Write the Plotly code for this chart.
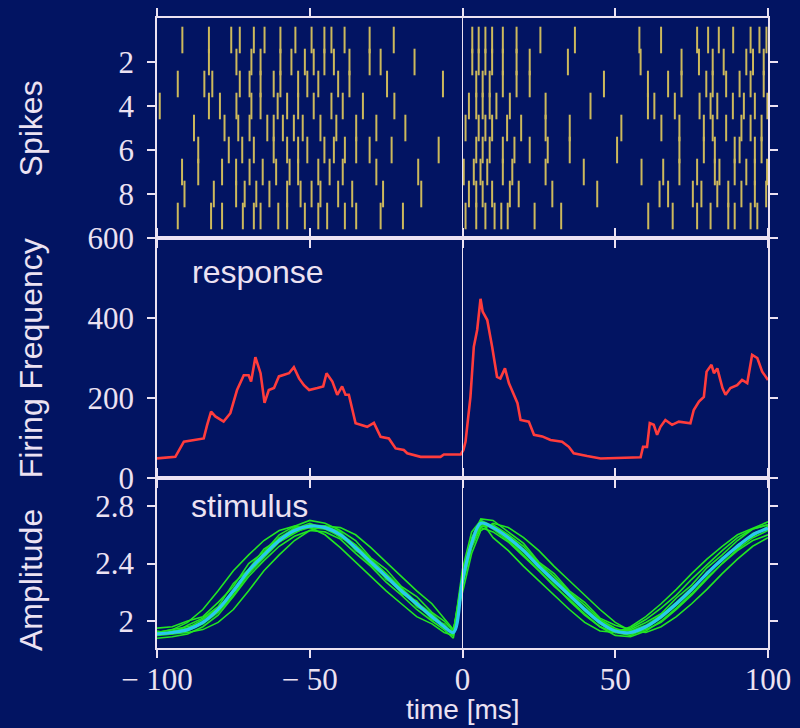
import plotly.graph_objects as go
from plotly.subplots import make_subplots

# ---------------- data ----------------
# spike times (ms) for each of the 9 trials, aligned to the stimulus event at 0 ms
spike_trials = [
    [-91.7, -83.0, -75.7, -72.9, -68.3, -64.8, -59.6, -54.7, -49.4, -45.2, -42.9, -38.6, -30.4, -22.5,
     3.2, 5.3, 7.5, 9.7, 13.2, 17.7, 25.5, 36.8, 57.9, 65.0, 76.8, 80.4, 83.9, 88.6, 94.3, 97.2, 99.5],
    [-83.0, -74.0, -69.1, -66.1, -59.6, -56.0, -51.6, -48.7, -45.2, -42.1, -37.0, -30.4, -26.8, -15.7,
     3.2, 5.3, 7.5, 9.7, 13.2, 17.7, 22.0, 34.5, 58.3, 71.7, 77.4, 81.9, 85.5, 92.9, 95.1, 98.6],
    [-93.2, -84.5, -81.9, -72.9, -69.7, -66.1, -61.8, -59.6, -53.8, -50.8, -47.2, -40.7, -37.0, -24.7, -6.4,
     4.5, 6.6, 8.9, 13.2, 17.7, 22.0, 46.3, 60.7, 67.3, 71.7, 79.8, 81.9, 86.3, 90.7, 94.3, 98.6],
    [-99.1, -83.0, -79.4, -74.0, -69.1, -66.1, -60.5, -57.4, -53.8, -48.7, -42.9, -39.2, -32.6, -22.3,
     2.1, 4.5, 6.6, 8.9, 11.1, 15.5, 27.2, 41.9, 60.7, 62.8, 69.5, 77.6, 81.2, 83.4, 88.5, 92.1, 95.7, 99.8],
    [-87.9, -77.9, -73.4, -69.7, -63.9, -61.8, -58.8, -55.2, -52.3, -46.5, -41.3, -34.8, -28.2, -18.7,
     1.0, 5.3, 7.5, 9.7, 14.6, 19.2, 27.2, 35.1, 52.0, 65.1, 71.0, 79.0, 81.9, 86.3, 91.3, 94.3, 97.9],
    [-86.5, -76.5, -72.1, -68.3, -61.8, -57.4, -53.8, -50.8, -45.2, -42.1, -38.5, -34.8, -30.4, -23.2, -7.8,
     4.5, 6.6, 8.9, 13.2, 17.0, 22.0, 27.9, 35.1, 50.6, 71.0, 79.0, 82.6, 89.1, 90.7, 95.7, 97.9],
    [-91.8, -86.5, -78.7, -74.1, -69.7, -65.4, -61.0, -56.6, -53.8, -47.2, -43.5, -39.2, -28.2, -14.5,
     0.4, 3.7, 5.9, 8.1, 13.2, 16.3, 27.2, 39.7, 58.6, 65.7, 71.0, 76.8, 82.6, 84.1, 89.1, 92.9, 95.7, 99.7],
    [-91.0, -81.4, -74.1, -71.3, -67.5, -63.2, -57.4, -53.0, -49.4, -46.5, -40.7, -36.1, -26.0, -13.5,
     2.1, 4.5, 6.6, 9.7, 15.5, 18.4, 29.4, 44.1, 64.5, 67.3, 75.4, 78.2, 83.4, 87.0, 91.3, 95.7, 99.4],
    [-93.2, -82.3, -78.7, -71.9, -68.3, -66.1, -60.3, -57.4, -51.6, -47.2, -44.3, -38.5, -34.8, -26.8, -19.5,
     1.0, 4.5, 7.5, 10.5, 12.7, 14.8, 23.6, 32.3, 60.8, 68.8, 76.8, 81.2, 87.0, 89.1, 94.3, 96.5],
]

# trial-averaged firing rate (Hz)
rate_t = [-100, -94, -91.2, -87.4, -84.7, -83.6, -82.3, -80.9, -78.2, -76, -73.8, -71.6, -70, -69.2,
          -67.8, -66.1, -64.8, -63.4, -61.7, -60.1, -58.5, -56.8, -55.2, -53.5, -51.9, -50.2, -47.5,
          -45.6, -44.5, -42.6, -41, -39.4, -38.3, -37.2, -35, -31.2, -29, -26.8, -24.1, -21.9, -19.2,
          -18.1, -13.7, -7.2, -6.1, -0.6, 0.3, 1.0, 2.6, 3.7, 4.8, 5.9, 6.6, 8.1, 9.7, 11.3, 12.4, 13.9,
          15.2, 18, 19, 21.7, 23.4, 26.1, 28.8, 32.6, 34.8, 36.4, 40.8, 45.2, 58.3, 59.1, 60.4, 61.3,
          62.6, 63.7, 64.8, 66.4, 68.6, 70.8, 74.6, 75.7, 77.4, 79, 79.9, 81.5, 82.3, 83.4, 85.1, 86.1,
          87.7, 89.9, 91.5, 93.2, 94.8, 96.5, 98.1, 100]
rate_hz = [49, 53, 91, 95, 99, 132, 166, 154, 141, 162, 220, 257, 257, 241,
           302, 262, 188, 220, 225, 254, 257, 262, 277, 249, 232, 220, 225,
           229, 262, 241, 208, 229, 208, 208, 137, 128, 138, 103, 99, 74, 70,
           62, 53, 53, 59, 59, 70, 91, 203, 328, 370, 448, 416, 395, 328, 253, 249, 274,
           237, 187, 145, 141, 108, 104, 95, 91, 78, 62, 55, 49, 52, 78, 78, 137,
           133, 108, 128, 145, 133, 141, 137, 170, 191, 203, 266, 283, 262, 274, 225, 208,
           225, 232, 245, 237, 308, 300, 266, 245]

# stimulus amplitude: individual trials and their mean
stim_t = [-100, -95, -90, -85, -80, -75, -70, -65, -60, -55, -50, -45, -40, -35, -30, -25, -20, -15, -10,
          -6, -3, 0, 3, 6, 10, 15, 20, 25, 30, 35, 40, 45, 50, 55, 60, 65, 70, 75, 80, 85, 90, 95, 100]
stim_trials = [
    [1.92, 1.94, 1.99, 2.08, 2.21, 2.35, 2.46, 2.56, 2.63, 2.66, 2.65, 2.60, 2.51, 2.41, 2.31, 2.21, 2.12, 2.03, 1.98,
     1.92, 1.90, 2.36, 2.62, 2.70, 2.58, 2.49, 2.38, 2.28, 2.18, 2.08, 1.99, 1.93, 1.92, 1.96, 2.03, 2.12, 2.22, 2.33, 2.43, 2.52, 2.60, 2.645, 2.69],
    [1.90, 1.91, 1.92, 1.94, 1.99, 2.08, 2.21, 2.35, 2.46, 2.56, 2.63, 2.66, 2.65, 2.60, 2.51, 2.41, 2.31, 2.21, 2.12,
     2.02, 1.94, 2.20, 2.47, 2.63, 2.68, 2.65, 2.58, 2.49, 2.38, 2.28, 2.18, 2.08, 1.99, 1.93, 1.92, 1.96, 2.03, 2.12, 2.22, 2.33, 2.43, 2.52, 2.58],
    [1.95, 1.96, 2.00, 2.03, 2.13, 2.24, 2.40, 2.48, 2.60, 2.66, 2.70, 2.68, 2.63, 2.56, 2.44, 2.36, 2.24, 2.17, 2.06,
     2.00, 1.93, 2.31, 2.58, 2.71, 2.70, 2.62, 2.54, 2.41, 2.33, 2.21, 2.13, 2.02, 1.97, 1.94, 1.99, 2.05, 2.16, 2.25, 2.37, 2.46, 2.56, 2.64, 2.67],
    [1.88, 1.89, 1.91, 1.96, 2.04, 2.17, 2.31, 2.42, 2.52, 2.59, 2.63, 2.62, 2.57, 2.47, 2.38, 2.27, 2.18, 2.08, 2.00,
     1.94, 1.88, 2.25, 2.51, 2.65, 2.62, 2.55, 2.45, 2.35, 2.24, 2.15, 2.05, 1.96, 1.90, 1.89, 1.93, 2.00, 2.09, 2.19, 2.30, 2.40, 2.49, 2.56, 2.60],
    [1.93, 1.91, 1.97, 2.02, 2.10, 2.26, 2.36, 2.50, 2.57, 2.65, 2.66, 2.66, 2.58, 2.53, 2.40, 2.33, 2.19, 2.14, 2.01,
     1.98, 1.91, 2.27, 2.55, 2.67, 2.67, 2.60, 2.52, 2.40, 2.31, 2.20, 2.11, 2.01, 1.95, 1.91, 1.94, 1.99, 2.08, 2.18, 2.29, 2.40, 2.50, 2.58, 2.63],
    [1.90, 1.93, 1.95, 2.01, 2.09, 2.20, 2.33, 2.45, 2.55, 2.62, 2.65, 2.64, 2.61, 2.53, 2.43, 2.33, 2.23, 2.13, 2.05,
     1.97, 1.90, 2.32, 2.56, 2.69, 2.64, 2.56, 2.46, 2.35, 2.25, 2.14, 2.04, 1.96, 1.92, 1.95, 2.01, 2.09, 2.18, 2.29, 2.39, 2.49, 2.58, 2.64, 2.67],
    [1.91, 1.92, 1.93, 1.98, 2.06, 2.18, 2.33, 2.44, 2.55, 2.61, 2.67, 2.66, 2.62, 2.49, 2.43, 2.29, 2.23, 2.10, 2.04,
     1.95, 1.93, 2.26, 2.52, 2.66, 2.66, 2.59, 2.50, 2.39, 2.29, 2.19, 2.09, 2.00, 1.94, 1.93, 1.97, 2.04, 2.13, 2.23, 2.32, 2.44, 2.51, 2.61, 2.64],
    [1.92, 1.94, 1.96, 1.98, 2.07, 2.20, 2.36, 2.47, 2.58, 2.64, 2.68, 2.64, 2.59, 2.50, 2.39, 2.30, 2.20, 2.11, 2.02,
     1.96, 1.92, 2.29, 2.55, 2.70, 2.66, 2.57, 2.48, 2.37, 2.27, 2.17, 2.07, 1.98, 1.92, 1.90, 1.95, 2.02, 2.11, 2.21, 2.34, 2.42, 2.53, 2.59, 2.66],
]
stim_mean = [1.91, 1.92, 1.94, 1.99, 2.08, 2.21, 2.35, 2.46, 2.56, 2.63, 2.66, 2.65, 2.60, 2.51, 2.41, 2.31, 2.21, 2.12, 2.03,
             1.96, 1.92, 2.28, 2.54, 2.68, 2.65, 2.58, 2.49, 2.38, 2.28, 2.18, 2.08, 1.99, 1.93, 1.92, 1.96, 2.03, 2.12, 2.22, 2.33, 2.43, 2.52, 2.60, 2.645]

x_ticks = [-100, -50, 0, 50, 100]
x_ticktext = ["\u2212 100", "\u2212 50", "0", "50", "100"]
spike_ticks = [2, 4, 6, 8]
rate_ticks = [0, 200, 400, 600]
amp_ticks = [2, 2.4, 2.8]

# ---------------- style ----------------
BG = "#021462"
FG = "#ece2f2"
SERIF = "Liberation Serif, Times New Roman, serif"
SANS = "Liberation Sans, Arial, sans-serif"

fig = make_subplots(rows=3, cols=1, shared_xaxes=True, vertical_spacing=0)

# spike raster: one short vertical tick per spike
for k, times in enumerate(spike_trials, start=1):
    fig.add_trace(go.Scatter(
        x=times, y=[k] * len(times), mode="markers",
        marker=dict(symbol="line-ns", size=19, line=dict(width=2, color="#cdb95c")),
        hoverinfo="x", showlegend=False), row=1, col=1)

# firing rate
fig.add_trace(go.Scatter(x=rate_t, y=rate_hz, mode="lines",
                         line=dict(color="#ff3c3c", width=2.6), showlegend=False), row=2, col=1)

# stimulus trials and mean
for tr in stim_trials:
    fig.add_trace(go.Scatter(x=stim_t, y=tr, mode="lines",
                             line=dict(color="#22e622", width=1.6), showlegend=False), row=3, col=1)
fig.add_trace(go.Scatter(x=stim_t, y=stim_mean, mode="lines", line_shape="spline",
                         line=dict(color="#2ac8ee", width=3.2), showlegend=False), row=3, col=1)

axis_common = dict(showline=True, linecolor=FG, linewidth=1.5, mirror="ticks",
                   ticks="outside", ticklen=8, tickwidth=2, tickcolor=FG,
                   showgrid=False, zeroline=False, automargin=False,
                   tickfont=dict(family=SERIF, size=31, color=FG))

for r in (1, 2, 3):
    fig.update_xaxes(axis_common, range=[-100, 100], tickvals=x_ticks, ticktext=x_ticktext,
                     ticklabelstandoff=-5, row=r, col=1)
fig.update_xaxes(showticklabels=True, row=3, col=1)

fig.update_yaxes(axis_common, range=[10, 0], tickvals=spike_ticks, ticklabelstandoff=7, row=1, col=1)
fig.update_yaxes(axis_common, range=[0, 600], tickvals=rate_ticks, ticklabelstandoff=7, row=2, col=1)
fig.update_yaxes(axis_common, range=[1.812, 2.995], tickvals=amp_ticks, ticklabelstandoff=7, row=3, col=1)

# panel heights: raster / rate / stimulus
fig.update_layout(
    yaxis=dict(domain=[0.6508, 1.0]),
    yaxis2=dict(domain=[0.2698, 0.6508]),
    yaxis3=dict(domain=[0.0, 0.2698]),
)

# event marker at t = 0 through every panel
for r in (1, 2, 3):
    fig.add_vline(x=0, line=dict(color=FG, width=1), row=r, col=1)

labels = [
    dict(text="Spikes", x=-0.206, y=0.825, textangle=-90, size=32, yanchor="middle"),
    dict(text="Firing Frequency", x=-0.206, y=0.46, textangle=-90, size=32, yanchor="middle"),
    dict(text="Amplitude", x=-0.206, y=0.108, textangle=-90, size=32, yanchor="middle"),
    dict(text="time [ms]", x=0.5008, y=-0.1254, textangle=0, size=28, yanchor="bottom"),
    dict(text="response", x=0.165, y=0.597, textangle=0, size=32, yanchor="middle"),
    dict(text="stimulus", x=0.152, y=0.226, textangle=0, size=32, yanchor="middle"),
]
for a in labels:
    fig.add_annotation(xref="paper", yref="paper", x=a["x"], y=a["y"], text=a["text"],
                       textangle=a["textangle"], showarrow=False,
                       xanchor="center", yanchor=a["yanchor"],
                       font=dict(family=SANS, size=a["size"], color=FG))

fig.update_layout(
    width=800, height=728,
    margin=dict(l=157, r=32, t=18, b=80),
    paper_bgcolor=BG, plot_bgcolor=BG,
    showlegend=False,
)

fig.write_html("out.html")
